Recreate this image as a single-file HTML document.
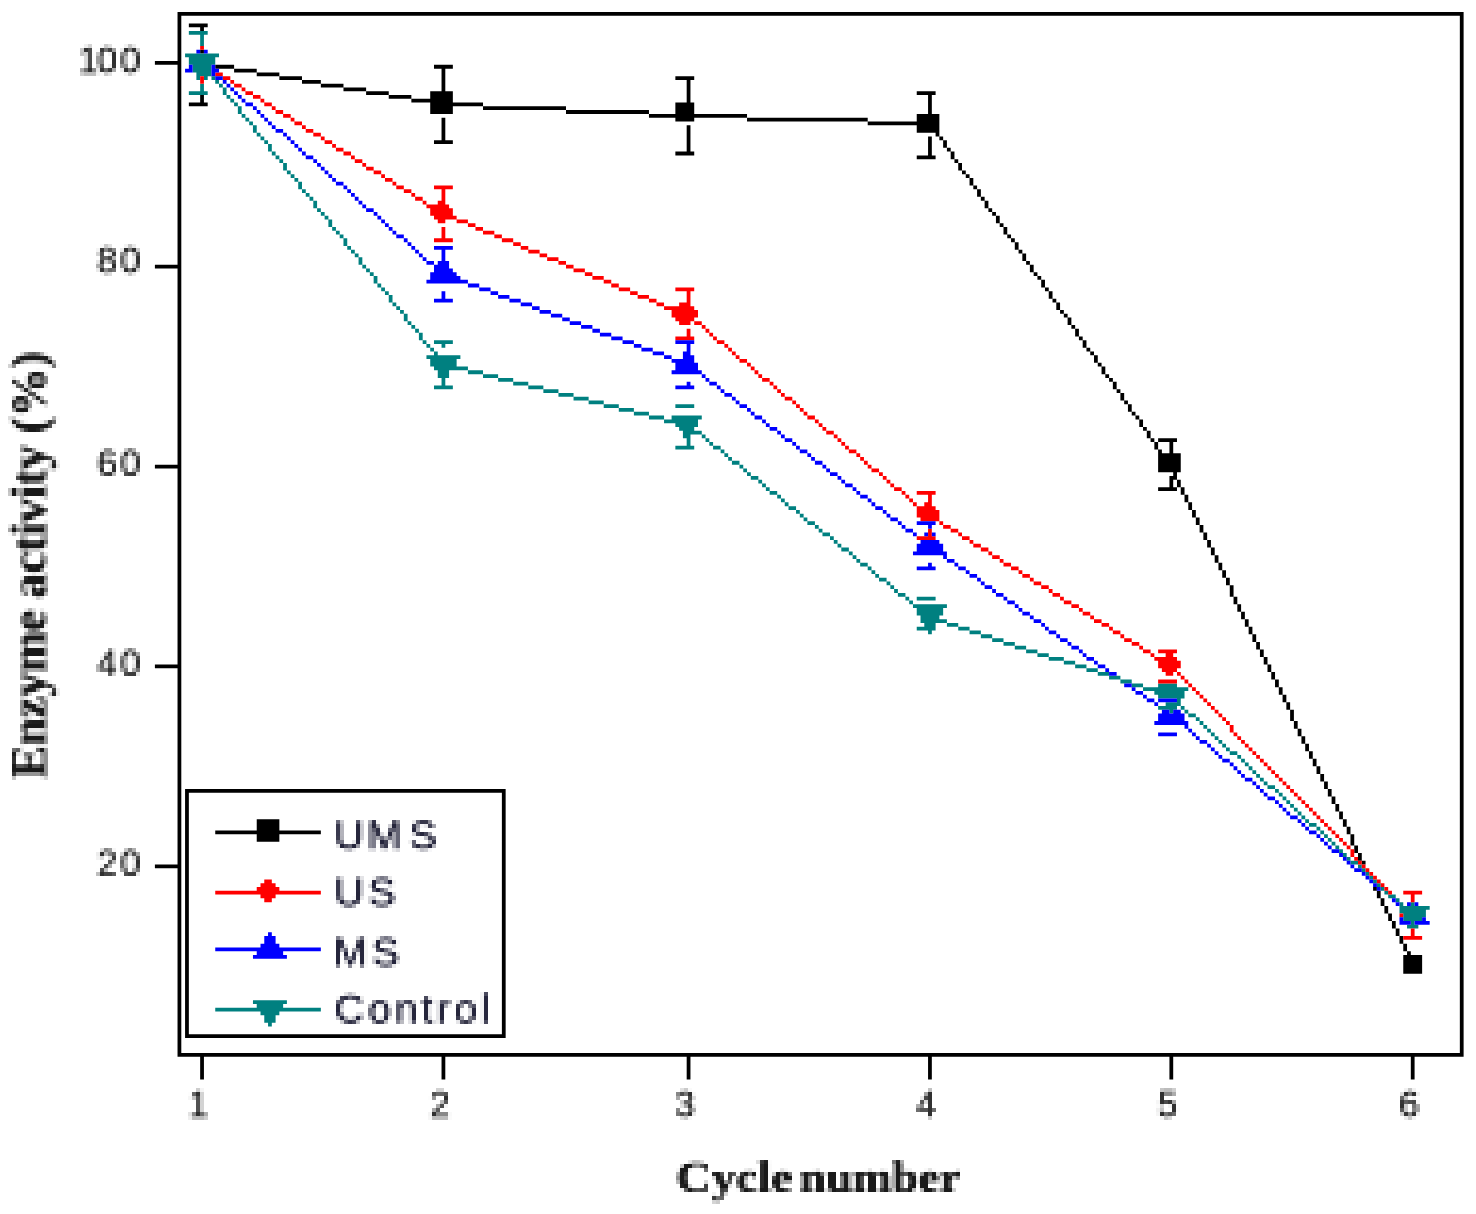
<!DOCTYPE html>
<html><head><meta charset="utf-8"><title>Enzyme activity vs cycle number</title>
<style>
html,body{margin:0;padding:0;background:#fff}
svg{display:block}
.tk{font-family:"Liberation Sans",Arial,sans-serif;font-size:36.5px;fill:#303030}
.ax{font-family:"Liberation Serif","Times New Roman",serif;font-weight:bold;fill:#1a1a1a}
.lg{font-family:"Liberation Sans",Arial,sans-serif;font-size:41.5px;letter-spacing:3.7px;fill:#26263c}
</style></head><body>
<svg width="1476" height="1214" viewBox="0 0 1476 1214">
<defs><filter id="soft" x="-2%" y="-2%" width="104%" height="104%"><feGaussianBlur stdDeviation="0.55"/></filter>
<filter id="pix" filterUnits="userSpaceOnUse" primitiveUnits="userSpaceOnUse" x="0" y="0" width="1476" height="1216" color-interpolation-filters="sRGB">
<feConvolveMatrix in="SourceGraphic" order="4" kernelMatrix="1 1 1 1 1 1 1 1 1 1 1 1 1 1 1 1" divisor="16" targetX="0" targetY="0" edgeMode="none" preserveAlpha="false" result="avg"/>
<feFlood x="0" y="0" width="1" height="1" flood-color="#000" flood-opacity="1" result="dot"/>
<feOffset in="dot" dx="0" dy="0" x="0" y="0" width="4" height="4" result="cell"/>
<feTile in="cell" x="0" y="0" width="1476" height="1216" result="grid"/>
<feComposite in="avg" in2="grid" operator="in" result="samp0"/>
<feComponentTransfer in="samp0" result="samp"><feFuncA type="linear" slope="1.3" intercept="0"/></feComponentTransfer>
<feConvolveMatrix in="samp" order="4" kernelMatrix="1 1 1 1 1 1 1 1 1 1 1 1 1 1 1 1" divisor="1" targetX="3" targetY="3" edgeMode="none" preserveAlpha="false" result="blk"/>
<feGaussianBlur in="blk" stdDeviation="0.5"/>
</filter>
<filter id="softt" x="-5%" y="-5%" width="110%" height="110%"><feGaussianBlur stdDeviation="0.7"/></filter></defs>
<rect width="1476" height="1214" fill="#fff"/>
<g filter="url(#soft)"><g transform="translate(0.27 0.75) scale(3.7715)">
<path fill="rgb(0,0,0)" d="M47 3h341v1h-341zM50 6h5v1h-5zM53 7h1v1h-1zM53 13h1v1h-1zM47 4h1v12h-1zM41 16h7v1h-7zM57 17h5v1h-5zM115 17h5v1h-5zM62 18h6v1h-6zM68 19h6v1h-6zM74 20h6v1h-6zM179 20h5v1h-5zM80 21h5v1h-5zM85 22h6v1h-6zM91 23h6v1h-6zM117 18h1v6h-1zM97 24h6v1h-6zM243 24h5v1h-5zM103 25h6v1h-6zM114 24h6v2h-6zM53 25h1v2h-1zM109 26h11v1h-11zM182 21h1v6h-1zM50 27h5v1h-5zM114 27h14v1h-14zM128 28h22v1h-22zM114 28h6v2h-6zM150 29h22v1h-22zM179 27h5v3h-5zM246 25h1v5h-1zM172 30h26v1h-26zM179 31h5v1h-5zM198 31h32v1h-32zM243 30h6v2h-6zM230 32h19v1h-19zM243 33h6v2h-6zM248 35h1v1h-1zM117 31h1v6h-1zM249 36h1v1h-1zM115 37h5v1h-5zM250 37h1v2h-1zM182 33h1v7h-1zM251 39h1v1h-1zM179 40h5v1h-5zM246 36h1v5h-1zM243 41h5v1h-5zM252 40h1v2h-1zM253 42h1v1h-1zM254 43h1v2h-1zM255 45h1v1h-1zM256 46h1v1h-1zM257 47h1v2h-1zM258 49h1v1h-1zM259 50h1v2h-1zM260 52h1v1h-1zM261 53h1v2h-1zM262 55h1v1h-1zM263 56h1v1h-1zM264 57h1v2h-1zM265 59h1v1h-1zM266 60h1v2h-1zM267 62h1v1h-1zM268 63h1v1h-1zM269 64h1v2h-1zM270 66h1v1h-1zM271 67h1v2h-1zM47 17h1v53h-1zM272 69h1v1h-1zM41 70h7v1h-7zM273 70h1v2h-1zM274 72h1v1h-1zM275 73h1v1h-1zM276 74h1v2h-1zM277 76h1v1h-1zM278 77h1v2h-1zM279 79h1v1h-1zM280 80h1v2h-1zM281 82h1v1h-1zM282 83h1v1h-1zM283 84h1v2h-1zM284 86h1v1h-1zM285 87h1v2h-1zM286 89h1v1h-1zM287 90h1v2h-1zM288 92h1v1h-1zM289 93h1v1h-1zM290 94h1v2h-1zM291 96h1v1h-1zM292 97h1v2h-1zM293 99h1v1h-1zM294 100h1v1h-1zM295 101h1v2h-1zM296 103h1v1h-1zM297 104h1v2h-1zM298 106h1v1h-1zM299 107h1v2h-1zM300 109h1v1h-1zM301 110h1v1h-1zM302 111h1v2h-1zM303 113h1v1h-1zM304 114h1v2h-1zM305 116h1v1h-1zM307 116h5v1h-5zM306 117h1v2h-1zM307 119h1v1h-1zM310 117h1v3h-1zM47 71h1v52h-1zM41 123h7v1h-7zM307 120h6v5h-6zM311 125h1v1h-1zM310 126h2v1h-2zM310 127h1v2h-1zM312 127h1v2h-1zM307 129h5v1h-5zM313 129h1v2h-1zM314 131h1v2h-1zM315 133h1v2h-1zM316 135h1v2h-1zM317 137h1v2h-1zM318 139h1v2h-1zM319 141h1v2h-1zM320 143h1v2h-1zM321 145h1v2h-1zM322 147h1v2h-1zM323 149h1v2h-1zM324 151h1v2h-1zM325 153h1v2h-1zM326 155h1v3h-1zM327 158h1v2h-1zM328 160h1v2h-1zM329 162h1v2h-1zM330 164h1v2h-1zM331 166h1v2h-1zM332 168h1v2h-1zM333 170h1v2h-1zM334 172h1v2h-1zM47 124h1v52h-1zM335 174h1v2h-1zM41 176h7v1h-7zM336 176h1v2h-1zM337 178h1v2h-1zM338 180h1v2h-1zM339 182h1v2h-1zM340 184h1v2h-1zM341 186h1v2h-1zM342 188h1v3h-1zM343 191h1v2h-1zM344 193h1v2h-1zM345 195h1v2h-1zM346 197h1v2h-1zM347 199h1v2h-1zM348 201h1v2h-1zM349 203h1v2h-1zM350 205h1v2h-1zM351 207h1v2h-1zM49 209h85v1h-85zM352 209h1v2h-1zM353 211h1v2h-1zM354 213h1v2h-1zM355 215h1v2h-1zM356 217h1v2h-1zM68 217h6v3h-6zM57 220h28v1h-28zM357 219h1v2h-1zM68 221h6v2h-6zM358 221h1v3h-1zM359 224h1v2h-1zM360 226h1v2h-1zM47 177h1v52h-1zM361 228h1v1h-1zM41 229h7v1h-7zM364 235h1v1h-1zM365 236h1v2h-1zM366 238h1v2h-1zM367 240h1v2h-1zM368 242h1v2h-1zM369 244h1v2h-1zM370 246h1v2h-1zM371 248h1v2h-1zM372 250h1v2h-1zM373 252h1v1h-1zM372 253h5v5h-5zM49 210h1v64h-1zM133 210h1v64h-1zM49 274h85v1h-85zM47 230h1v49h-1zM387 4h1v275h-1zM47 279h341v1h-341zM53 280h1v6h-1zM117 280h1v6h-1zM182 280h1v6h-1zM246 280h1v6h-1zM310 280h1v6h-1zM374 280h1v6h-1z"/>
<path fill="rgb(0,128,128)" d="M50 8h5v1h-5zM53 9h1v3h-1zM49 14h9v1h-9zM50 15h7v2h-7zM51 17h5v2h-5zM52 19h4v1h-4zM52 20h1v1h-1zM54 20h1v1h-1zM56 20h1v1h-1zM57 21h1v1h-1zM58 22h1v1h-1zM53 22h1v2h-1zM50 24h5v1h-5zM59 23h1v2h-1zM60 25h1v1h-1zM61 26h1v1h-1zM62 27h1v1h-1zM63 28h1v2h-1zM64 30h1v1h-1zM65 31h1v1h-1zM66 32h1v1h-1zM67 33h1v2h-1zM68 35h1v1h-1zM69 36h1v1h-1zM70 37h1v1h-1zM71 38h1v2h-1zM72 40h1v1h-1zM73 41h1v1h-1zM74 42h1v1h-1zM75 43h1v2h-1zM76 45h1v1h-1zM77 46h1v1h-1zM78 47h1v1h-1zM79 48h1v2h-1zM80 50h1v1h-1zM81 51h1v1h-1zM82 52h1v1h-1zM83 53h1v2h-1zM84 55h1v1h-1zM85 56h1v1h-1zM86 57h1v1h-1zM87 58h1v2h-1zM88 60h1v1h-1zM89 61h1v1h-1zM90 62h1v1h-1zM91 63h1v2h-1zM92 65h1v1h-1zM93 66h1v1h-1zM94 67h1v1h-1zM95 68h1v2h-1zM96 70h1v1h-1zM97 71h1v1h-1zM98 72h1v1h-1zM99 73h1v2h-1zM100 75h1v1h-1zM101 76h1v1h-1zM102 77h1v1h-1zM103 78h1v2h-1zM104 80h1v1h-1zM105 81h1v1h-1zM106 82h1v1h-1zM107 83h1v2h-1zM108 85h1v1h-1zM109 86h1v1h-1zM110 87h1v1h-1zM111 88h1v2h-1zM112 90h1v1h-1zM115 90h5v1h-5zM113 91h1v1h-1zM117 91h1v1h-1zM114 92h1v1h-1zM115 93h1v1h-1zM113 94h9v1h-9zM114 95h7v2h-7zM115 97h9v1h-9zM124 98h4v1h-4zM116 98h3v2h-3zM128 99h4v1h-4zM132 100h4v1h-4zM117 100h1v2h-1zM136 101h4v1h-4zM115 102h5v1h-5zM140 102h4v1h-4zM144 103h4v1h-4zM148 104h4v1h-4zM152 105h4v1h-4zM156 106h4v1h-4zM160 107h4v1h-4zM179 107h5v1h-5zM164 108h4v1h-4zM168 109h4v1h-4zM172 110h4v1h-4zM178 110h8v1h-8zM176 111h9v1h-9zM179 112h6v1h-6zM180 113h4v1h-4zM181 114h5v1h-5zM181 115h2v1h-2zM186 115h1v1h-1zM187 116h1v1h-1zM182 116h1v2h-1zM188 117h1v1h-1zM179 118h5v1h-5zM189 118h2v1h-2zM191 119h1v1h-1zM192 120h1v1h-1zM193 121h1v1h-1zM194 122h2v1h-2zM196 123h1v1h-1zM197 124h1v1h-1zM198 125h1v1h-1zM199 126h2v1h-2zM201 127h1v1h-1zM202 128h1v1h-1zM203 129h1v1h-1zM204 130h2v1h-2zM206 131h1v1h-1zM207 132h1v1h-1zM208 133h1v1h-1zM209 134h2v1h-2zM211 135h1v1h-1zM212 136h1v1h-1zM213 137h1v1h-1zM214 138h2v1h-2zM216 139h1v1h-1zM217 140h1v1h-1zM218 141h2v1h-2zM220 142h1v1h-1zM221 143h1v1h-1zM222 144h1v1h-1zM223 145h2v1h-2zM225 146h1v1h-1zM226 147h1v1h-1zM227 148h1v1h-1zM228 149h2v1h-2zM230 150h1v1h-1zM231 151h1v1h-1zM232 152h1v1h-1zM233 153h2v1h-2zM235 154h1v1h-1zM236 155h1v1h-1zM237 156h1v1h-1zM238 157h2v1h-2zM240 158h1v1h-1zM243 158h5v1h-5zM241 159h1v1h-1zM242 160h9v1h-9zM243 161h7v2h-7zM244 163h5v1h-5zM244 164h7v1h-7zM245 165h3v1h-3zM251 165h3v1h-3zM243 166h5v1h-5zM254 166h3v1h-3zM246 167h1v1h-1zM257 167h3v1h-3zM260 168h3v1h-3zM263 169h3v1h-3zM266 170h3v1h-3zM269 171h3v1h-3zM272 172h3v1h-3zM275 173h3v1h-3zM278 174h4v1h-4zM282 175h3v1h-3zM285 176h3v1h-3zM288 177h3v1h-3zM291 178h3v1h-3zM294 179h3v1h-3zM297 180h3v1h-3zM300 181h3v1h-3zM307 181h5v1h-5zM303 182h12v1h-12zM306 183h8v1h-8zM307 184h7v1h-7zM312 185h1v1h-1zM309 186h4v1h-4zM307 187h5v1h-5zM313 187h1v1h-1zM310 188h1v1h-1zM314 188h1v1h-1zM315 189h2v1h-2zM317 190h1v1h-1zM318 191h1v1h-1zM319 192h1v1h-1zM320 193h1v1h-1zM321 194h1v1h-1zM322 195h1v1h-1zM323 196h1v1h-1zM324 197h1v1h-1zM325 198h1v1h-1zM326 199h2v1h-2zM328 200h1v1h-1zM329 201h1v1h-1zM330 202h1v1h-1zM331 203h1v1h-1zM332 204h1v1h-1zM333 205h1v1h-1zM334 206h1v1h-1zM335 207h1v1h-1zM336 208h2v1h-2zM338 209h1v1h-1zM339 210h1v1h-1zM340 211h1v1h-1zM341 212h1v1h-1zM342 213h1v1h-1zM343 214h1v1h-1zM344 215h1v1h-1zM345 216h1v1h-1zM346 217h1v1h-1zM347 218h2v1h-2zM349 219h1v1h-1zM350 220h1v1h-1zM351 221h1v1h-1zM352 222h1v1h-1zM353 223h1v1h-1zM354 224h1v1h-1zM355 225h1v1h-1zM356 226h1v1h-1zM357 227h1v1h-1zM358 228h2v1h-2zM360 229h1v1h-1zM361 230h1v1h-1zM362 231h1v1h-1zM363 232h1v1h-1zM364 233h1v1h-1zM365 234h1v1h-1zM366 235h1v1h-1zM367 236h1v1h-1zM368 237h2v1h-2zM370 238h1v1h-1zM371 239h1v1h-1zM374 239h1v1h-1zM371 240h8v1h-8zM371 241h7v1h-7zM372 242h6v1h-6zM372 243h5v1h-5zM374 244h1v1h-1zM373 245h3v1h-3zM67 265h9v1h-9zM68 266h7v1h-7zM57 267h28v1h-28zM69 268h5v1h-5zM70 269h3v2h-3zM71 271h1v1h-1z"/>
<path fill="rgb(255,0,0)" d="M53 12h1v1h-1zM57 19h2v1h-2zM59 20h2v1h-2zM53 20h1v2h-1zM61 21h1v1h-1zM62 22h2v1h-2zM64 23h1v1h-1zM65 24h2v1h-2zM67 25h2v1h-2zM69 26h1v1h-1zM70 27h2v1h-2zM72 28h1v1h-1zM73 29h2v1h-2zM75 30h2v1h-2zM77 31h1v1h-1zM78 32h2v1h-2zM80 33h1v1h-1zM81 34h2v1h-2zM83 35h2v1h-2zM85 36h1v1h-1zM86 37h2v1h-2zM88 38h1v1h-1zM89 39h2v1h-2zM91 40h2v1h-2zM93 41h1v1h-1zM94 42h2v1h-2zM96 43h1v1h-1zM97 44h2v1h-2zM99 45h2v1h-2zM101 46h1v1h-1zM102 47h2v1h-2zM104 48h1v1h-1zM105 49h2v1h-2zM115 49h5v1h-5zM107 50h2v1h-2zM109 51h1v1h-1zM110 52h2v1h-2zM117 50h1v3h-1zM112 53h1v1h-1zM116 53h2v1h-2zM113 54h6v1h-6zM114 55h6v2h-6zM115 57h6v1h-6zM116 58h2v1h-2zM121 58h3v1h-3zM124 59h2v1h-2zM126 60h2v1h-2zM128 61h3v1h-3zM117 60h1v3h-1zM131 62h2v1h-2zM115 63h5v1h-5zM133 63h3v1h-3zM136 64h2v1h-2zM138 65h2v1h-2zM140 66h3v1h-3zM143 67h2v1h-2zM145 68h3v1h-3zM148 69h2v1h-2zM150 70h2v1h-2zM152 71h3v1h-3zM155 72h2v1h-2zM157 73h3v1h-3zM160 74h2v1h-2zM162 75h2v1h-2zM164 76h3v1h-3zM179 76h5v1h-5zM167 77h2v1h-2zM169 78h3v1h-3zM172 79h2v1h-2zM182 77h1v3h-1zM174 80h2v1h-2zM180 80h3v1h-3zM176 81h8v1h-8zM178 82h7v2h-7zM179 84h5v1h-5zM180 85h3v1h-3zM184 85h2v1h-2zM186 86h1v1h-1zM187 87h1v1h-1zM182 87h1v2h-1zM188 88h1v1h-1zM179 89h5v1h-5zM189 89h1v1h-1zM190 90h2v1h-2zM192 91h1v1h-1zM193 92h1v1h-1zM194 93h1v1h-1zM195 94h1v1h-1zM196 95h2v1h-2zM198 96h1v1h-1zM199 97h1v1h-1zM200 98h1v1h-1zM201 99h1v1h-1zM202 100h2v1h-2zM204 101h1v1h-1zM205 102h1v1h-1zM206 103h1v1h-1zM207 104h1v1h-1zM208 105h2v1h-2zM210 106h1v1h-1zM211 107h1v1h-1zM212 108h1v1h-1zM213 109h1v1h-1zM214 110h2v1h-2zM216 111h1v1h-1zM217 112h1v1h-1zM218 113h1v1h-1zM219 114h2v1h-2zM221 115h1v1h-1zM222 116h1v1h-1zM223 117h1v1h-1zM224 118h1v1h-1zM225 119h2v1h-2zM227 120h1v1h-1zM228 121h1v1h-1zM229 122h1v1h-1zM230 123h1v1h-1zM231 124h2v1h-2zM233 125h1v1h-1zM234 126h1v1h-1zM235 127h1v1h-1zM236 128h1v1h-1zM237 129h2v1h-2zM239 130h1v1h-1zM243 130h5v1h-5zM240 131h1v1h-1zM241 132h1v1h-1zM246 131h1v2h-1zM242 133h1v1h-1zM245 133h2v1h-2zM243 134h5v1h-5zM243 135h6v2h-6zM244 137h5v1h-5zM249 138h1v1h-1zM250 139h2v1h-2zM252 140h2v1h-2zM246 140h1v2h-1zM254 141h1v1h-1zM243 142h5v1h-5zM255 142h2v1h-2zM257 143h1v1h-1zM258 144h2v1h-2zM260 145h2v1h-2zM262 146h1v1h-1zM263 147h2v1h-2zM265 148h1v1h-1zM266 149h2v1h-2zM268 150h2v1h-2zM270 151h1v1h-1zM271 152h2v1h-2zM273 153h1v1h-1zM274 154h2v1h-2zM276 155h2v1h-2zM278 156h1v1h-1zM279 157h2v1h-2zM281 158h1v1h-1zM282 159h2v1h-2zM284 160h2v1h-2zM286 161h1v1h-1zM287 162h2v1h-2zM289 163h1v1h-1zM290 164h2v1h-2zM292 165h2v1h-2zM294 166h1v1h-1zM295 167h2v1h-2zM297 168h1v1h-1zM298 169h2v1h-2zM300 170h2v1h-2zM302 171h1v1h-1zM303 172h2v1h-2zM307 172h5v1h-5zM305 173h1v1h-1zM309 173h2v1h-2zM306 174h6v1h-6zM307 175h6v2h-6zM308 177h4v1h-4zM309 178h2v1h-2zM312 178h1v1h-1zM313 179h1v1h-1zM307 180h5v1h-5zM314 180h1v1h-1zM315 181h1v1h-1zM316 182h1v1h-1zM317 183h1v1h-1zM318 184h1v1h-1zM319 185h1v1h-1zM320 186h1v1h-1zM321 187h1v1h-1zM322 188h1v1h-1zM323 189h1v1h-1zM324 190h1v1h-1zM325 191h1v1h-1zM326 192h1v2h-1zM327 194h1v1h-1zM328 195h1v1h-1zM329 196h1v1h-1zM330 197h1v1h-1zM331 198h1v1h-1zM332 199h1v1h-1zM333 200h1v1h-1zM334 201h1v1h-1zM335 202h1v1h-1zM336 203h1v1h-1zM337 204h1v1h-1zM338 205h1v1h-1zM339 206h1v1h-1zM340 207h1v1h-1zM341 208h1v1h-1zM342 209h1v1h-1zM343 210h1v1h-1zM344 211h1v1h-1zM345 212h1v1h-1zM346 213h1v1h-1zM347 214h1v1h-1zM348 215h1v1h-1zM349 216h1v1h-1zM350 217h1v1h-1zM351 218h1v1h-1zM352 219h1v1h-1zM353 220h1v1h-1zM354 221h1v1h-1zM355 222h1v1h-1zM356 223h1v1h-1zM357 224h1v1h-1zM358 225h1v2h-1zM359 227h1v1h-1zM360 228h1v1h-1zM361 229h1v1h-1zM362 230h1v1h-1zM363 231h1v1h-1zM364 232h1v1h-1zM70 233h2v1h-2zM365 233h1v1h-1zM69 234h4v1h-4zM366 234h1v1h-1zM68 235h6v1h-6zM367 235h1v1h-1zM57 236h28v1h-28zM368 236h1v1h-1zM372 236h5v1h-5zM69 237h4v1h-4zM70 238h2v1h-2zM374 237h1v2h-1zM371 242h1v1h-1zM374 246h1v2h-1zM372 248h5v1h-5z"/>
<path fill="rgb(0,0,255)" d="M52 13h1v1h-1zM54 13h1v1h-1zM50 17h1v1h-1zM56 17h1v1h-1zM49 18h2v1h-2zM56 18h2v1h-2zM56 19h1v1h-1zM57 20h2v1h-2zM59 21h1v1h-1zM60 22h1v1h-1zM61 23h1v1h-1zM62 24h1v1h-1zM63 25h1v1h-1zM64 26h1v1h-1zM65 27h2v1h-2zM67 28h1v1h-1zM68 29h1v1h-1zM69 30h1v1h-1zM70 31h1v1h-1zM71 32h1v1h-1zM72 33h1v1h-1zM73 34h2v1h-2zM75 35h1v1h-1zM76 36h1v1h-1zM77 37h1v1h-1zM78 38h1v1h-1zM79 39h1v1h-1zM80 40h1v1h-1zM81 41h2v1h-2zM83 42h1v1h-1zM84 43h1v1h-1zM85 44h1v1h-1zM86 45h1v1h-1zM87 46h1v1h-1zM88 47h1v1h-1zM89 48h2v1h-2zM91 49h1v1h-1zM92 50h1v1h-1zM93 51h1v1h-1zM94 52h1v1h-1zM95 53h1v1h-1zM96 54h1v1h-1zM97 55h2v1h-2zM99 56h1v1h-1zM100 57h1v1h-1zM101 58h1v1h-1zM102 59h1v1h-1zM103 60h1v1h-1zM104 61h1v1h-1zM105 62h2v1h-2zM107 63h1v1h-1zM108 64h1v1h-1zM109 65h1v1h-1zM115 65h5v1h-5zM110 66h1v1h-1zM111 67h1v1h-1zM112 68h1v1h-1zM117 66h1v3h-1zM113 69h2v1h-2zM116 69h3v1h-3zM115 70h4v1h-4zM115 71h5v1h-5zM114 72h7v1h-7zM114 73h8v1h-8zM113 74h11v1h-11zM124 75h3v1h-3zM127 76h3v1h-3zM130 77h2v1h-2zM117 77h1v2h-1zM132 78h3v1h-3zM115 79h5v1h-5zM135 79h3v1h-3zM138 80h3v1h-3zM141 81h2v1h-2zM143 82h3v1h-3zM146 83h3v1h-3zM149 84h2v1h-2zM151 85h3v1h-3zM154 86h3v1h-3zM157 87h2v1h-2zM159 88h3v1h-3zM162 89h3v1h-3zM165 90h3v1h-3zM179 90h5v1h-5zM168 91h2v1h-2zM170 92h3v1h-3zM182 91h1v2h-1zM173 93h3v1h-3zM181 93h2v1h-2zM176 94h2v1h-2zM181 94h3v1h-3zM178 95h6v1h-6zM179 96h6v2h-6zM178 98h8v1h-8zM186 99h1v1h-1zM187 100h1v1h-1zM182 101h1v1h-1zM188 101h2v1h-2zM179 102h5v1h-5zM190 102h1v1h-1zM191 103h1v1h-1zM192 104h2v1h-2zM194 105h1v1h-1zM195 106h1v1h-1zM196 107h2v1h-2zM198 108h1v1h-1zM199 109h1v1h-1zM200 110h2v1h-2zM202 111h1v1h-1zM203 112h1v1h-1zM204 113h2v1h-2zM206 114h1v1h-1zM207 115h1v1h-1zM208 116h2v1h-2zM210 117h1v1h-1zM211 118h1v1h-1zM212 119h2v1h-2zM214 120h1v1h-1zM215 121h1v1h-1zM216 122h2v1h-2zM218 123h1v1h-1zM219 124h1v1h-1zM220 125h2v1h-2zM222 126h1v1h-1zM223 127h1v1h-1zM224 128h2v1h-2zM226 129h1v1h-1zM227 130h1v1h-1zM228 131h2v1h-2zM230 132h1v1h-1zM231 133h1v1h-1zM232 134h2v1h-2zM234 135h1v1h-1zM235 136h1v1h-1zM236 137h2v1h-2zM238 138h1v1h-1zM243 138h5v1h-5zM239 139h1v1h-1zM246 139h1v1h-1zM240 140h2v1h-2zM242 141h1v1h-1zM245 141h1v1h-1zM247 141h1v1h-1zM244 143h5v1h-5zM243 144h7v2h-7zM242 146h9v1h-9zM250 147h1v1h-1zM251 148h2v1h-2zM246 149h1v1h-1zM253 149h1v1h-1zM243 150h5v1h-5zM254 150h2v1h-2zM256 151h1v1h-1zM257 152h2v1h-2zM259 153h1v1h-1zM260 154h1v1h-1zM261 155h2v1h-2zM263 156h1v1h-1zM264 157h2v1h-2zM266 158h1v1h-1zM267 159h2v1h-2zM269 160h1v1h-1zM270 161h1v1h-1zM271 162h2v1h-2zM273 163h1v1h-1zM274 164h2v1h-2zM276 165h1v1h-1zM277 166h1v1h-1zM278 167h2v1h-2zM280 168h1v1h-1zM281 169h2v1h-2zM283 170h1v1h-1zM284 171h2v1h-2zM286 172h1v1h-1zM287 173h1v1h-1zM288 174h2v1h-2zM290 175h1v1h-1zM291 176h2v1h-2zM293 177h1v1h-1zM294 178h2v1h-2zM298 181h2v1h-2zM300 182h1v1h-1zM301 183h2v1h-2zM303 184h1v1h-1zM304 185h2v1h-2zM307 185h5v1h-5zM306 186h1v1h-1zM308 188h2v1h-2zM311 188h2v1h-2zM307 189h7v2h-7zM306 191h9v1h-9zM314 192h1v1h-1zM315 193h1v1h-1zM307 194h5v1h-5zM316 194h1v1h-1zM317 195h1v1h-1zM318 196h2v1h-2zM320 197h1v1h-1zM321 198h1v1h-1zM322 199h1v1h-1zM323 200h1v1h-1zM324 201h2v1h-2zM326 202h1v1h-1zM327 203h1v1h-1zM328 204h1v1h-1zM329 205h1v1h-1zM330 206h2v1h-2zM332 207h1v1h-1zM333 208h1v1h-1zM334 209h1v1h-1zM335 210h1v1h-1zM336 211h2v1h-2zM338 212h1v1h-1zM339 213h1v1h-1zM340 214h1v1h-1zM341 215h1v1h-1zM342 216h2v1h-2zM344 217h1v1h-1zM345 218h1v1h-1zM346 219h1v1h-1zM347 220h2v1h-2zM349 221h1v1h-1zM350 222h1v1h-1zM351 223h1v1h-1zM352 224h1v1h-1zM353 225h2v1h-2zM355 226h1v1h-1zM356 227h1v1h-1zM357 228h1v1h-1zM358 229h1v1h-1zM359 230h2v1h-2zM361 231h1v1h-1zM362 232h1v1h-1zM363 233h1v1h-1zM364 234h1v1h-1zM365 235h1v1h-1zM369 238h1v1h-1zM370 239h1v1h-1zM373 239h1v1h-1zM375 239h1v1h-1zM371 243h1v1h-1zM377 243h1v1h-1zM371 244h3v1h-3zM375 244h4v1h-4zM71 247h1v1h-1zM70 248h3v2h-3zM69 250h5v1h-5zM57 251h28v1h-28zM68 252h7v1h-7zM67 253h9v1h-9z"/>
</g></g>
<g filter="url(#pix)">
<text class="tk" x="78.2 97.1 120.3" y="72.7">100</text>
<text class="tk" x="97.1 120.3" y="272.7">80</text>
<text class="tk" x="97.1 120.3" y="476">60</text>
<text class="tk" x="97.1 120.3" y="676">40</text>
<text class="tk" x="97.1 120.3" y="876">20</text>
<text class="tk" x="198.4" y="1117" text-anchor="middle">1</text>
<text class="tk" x="439.8" y="1117" text-anchor="middle">2</text>
<text class="tk" x="685.0" y="1117" text-anchor="middle">3</text>
<text class="tk" x="926.3" y="1117" text-anchor="middle">4</text>
<text class="tk" x="1167.7" y="1117" text-anchor="middle">5</text>
<text class="tk" x="1409.1" y="1117" text-anchor="middle">6</text>
<text class="ax" y="1192" style="font-size:44px"><tspan x="676" textLength="117" lengthAdjust="spacingAndGlyphs">Cycle</tspan><tspan> </tspan><tspan x="799.5" textLength="161" lengthAdjust="spacingAndGlyphs">number</tspan></text>
<text class="ax" transform="translate(45.5 778.5) rotate(-90)" x="0" y="0" textLength="427" lengthAdjust="spacing" style="font-size:50px">Enzyme activity (%)</text>
<text class="lg" x="333.9 366.9 409.3" y="849">UMS</text>
<text class="lg" x="333.9 367.9" y="905.7">US</text>
<text class="lg" x="333.1 371.7" y="966">MS</text>
<text class="lg" x="334.3" y="1023">Control</text>
</g>
</svg>
</body></html>
